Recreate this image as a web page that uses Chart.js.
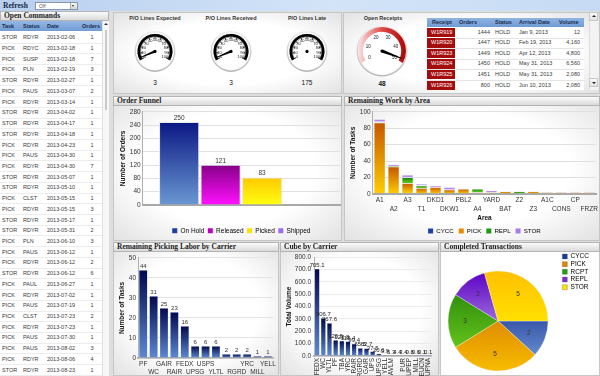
<!DOCTYPE html>
<html><head><meta charset="utf-8">
<script src="https://cdn.jsdelivr.net/npm/chart.js@4.4.1/dist/chart.umd.min.js"></script>
<style>
*{box-sizing:border-box;margin:0;padding:0}
html,body{width:600px;height:376px;overflow:hidden;background:#dedede;font-family:"Liberation Sans",Arial,sans-serif;color:#333;position:relative}
.a{position:absolute}
.panel{position:absolute;background:radial-gradient(ellipse at 50% 50%,#ffffff 55%,#e2e2e2 100%);border:1px solid #c6c6c6}
.ttl{position:absolute;height:10px;background:linear-gradient(#fbfbfb,#dadada);border:1px solid #b4b4b4;font:bold 7.5px "Liberation Serif",serif;line-height:8px;padding-left:3px;color:#1e1e1e;white-space:nowrap;overflow:hidden}
.cell{position:absolute;font-size:5.5px;line-height:10px;white-space:nowrap;color:#3a3a3a}
.hcell{position:absolute;font-size:5.5px;font-weight:bold;line-height:9px;white-space:nowrap;color:#1d2d4d}
.gt{position:absolute;font:bold 5.5px "Liberation Sans",Arial,sans-serif;color:#333;text-align:center;width:80px}
.gv{position:absolute;font:6.5px "Liberation Sans",Arial,sans-serif;color:#111;text-align:center;width:40px}
canvas{position:absolute}
</style></head><body>

<!-- top bar -->
<div class="a" style="left:0;top:0;width:600px;height:11px;background:linear-gradient(90deg,#b8cfee,#d3e4f8 55%,#c6dbf3)"></div>
<div class="a" style="left:3px;top:1px;font:bold 7.5px 'Liberation Serif',serif;color:#1a2a4a;line-height:9px">Refresh</div>
<div class="a" style="left:35px;top:2px;width:43px;height:8px;background:#fff;border:1px solid #8796ad;font-size:5px;line-height:6px;padding-left:3px;color:#555">Off</div>
<div class="a" style="left:70px;top:3px;width:7px;height:6px;background:linear-gradient(#f4f4f4,#d6d6d6);border-left:1px solid #aaa"></div>
<div class="a" style="left:72px;top:5px;width:0;height:0;border-left:1.5px solid transparent;border-right:1.5px solid transparent;border-top:2px solid #333"></div>

<!-- left panel -->
<div class="a" style="left:0;top:11px;width:109px;height:365px;background:#fff;border-right:1px solid #bdbdbd"></div>
<div class="ttl" style="left:0;top:11px;width:109px">Open Commands</div>
<div class="a" style="left:0;top:21px;width:102px;height:10px;background:linear-gradient(#93b7e4,#729dd5)"></div>
<div class="hcell" style="left:2px;top:21.5px">Task</div>
<div class="hcell" style="left:23px;top:21.5px">Status</div>
<div class="hcell" style="left:47px;top:21.5px">Date</div>
<div class="hcell" style="left:82px;top:21.5px">Orders</div>
<div id="cmdRows"></div>
<div class="a" style="left:102px;top:21px;width:7px;height:355px;background:#f7f7f7;border-left:1px solid #e0e0e0"></div>
<div class="a" style="left:104px;top:23px;width:0;height:0;border-left:2px solid transparent;border-right:2px solid transparent;border-bottom:2.5px solid #333"></div>
<div class="a" style="left:104.5px;top:30px;width:2px;height:80px;background:#c9c9c9"></div>

<!-- top panels -->
<div class="panel" style="left:113px;top:12px;width:229px;height:82px"></div>
<div class="panel" style="left:343px;top:12px;width:257px;height:82px"></div>

<div class="gt" style="left:115px;top:15px">P/O Lines Expected</div>
<div class="gt" style="left:191px;top:15px">P/O Lines Received</div>
<div class="gt" style="left:267px;top:15px">P/O Lines Late</div>
<div class="gt" style="left:343px;top:15px">Open Receipts</div>
<div id="gaugeVals"></div>

<!-- receipts table -->
<div class="a" id="rcpt" style="left:427px;top:18px;width:157px;height:72px;overflow:hidden;background:#fff">
</div>
<div class="a" style="left:589px;top:12px;width:9px;height:78px;background:#f3f3f3;border-left:1px solid #ddd"></div>
<div class="a" style="left:589px;top:12px;width:9px;height:9px;background:linear-gradient(#fafafa,#e0e0e0);border:1px solid #c8c8c8"></div>
<div class="a" style="left:591.5px;top:15px;width:0;height:0;border-left:2px solid transparent;border-right:2px solid transparent;border-bottom:2.5px solid #222"></div>
<div class="a" style="left:589px;top:78px;width:9px;height:9px;background:linear-gradient(#fafafa,#e0e0e0);border:1px solid #c8c8c8"></div>
<div class="a" style="left:591.5px;top:81.5px;width:0;height:0;border-left:2px solid transparent;border-right:2px solid transparent;border-top:2.5px solid #222"></div>

<!-- middle panels -->
<div class="panel" style="left:113px;top:96px;width:229px;height:145px"></div>
<div class="ttl" style="left:113px;top:96px;width:229px">Order Funnel</div>
<div class="panel" style="left:344px;top:96px;width:256px;height:145px"></div>
<div class="ttl" style="left:344px;top:96px;width:256px">Remaining Work by Area</div>

<!-- bottom panels -->
<div class="panel" style="left:113px;top:242px;width:166px;height:134px"></div>
<div class="panel" style="left:280px;top:242px;width:159px;height:134px"></div>
<div class="panel" style="left:440px;top:242px;width:160px;height:134px;background:#fff"></div>

<script>
// ================= DATA =================
const commandTasks = ['STOR','PICK','PICK','PICK','STOR','PICK','PICK','STOR','STOR','STOR','PICK','PICK','PICK','STOR','STOR','PICK','PICK','STOR','STOR','PICK','PICK','PICK','STOR','PICK','PICK','PICK','PICK','PICK','PICK','PICK','PICK','STOR'];
const commandStatuses = ['RDYR','RDYC','SUSP','PLN','RDYR','PAUS','RDYR','RDYR','RDYR','RDYR','RDYR','PAUS','RDYR','RDYR','RDYR','CLST','RDYR','RDYR','RDYR','PLN','PAUS','RDYR','RDYR','PAUL','RDYR','PAUS','CLST','RDYR','PAUS','PAUS','RDYR','RDYR'];
const commandDates = ['2013-02-06','2013-02-18','2013-02-18','2013-02-19','2013-02-27','2013-03-07','2013-03-14','2013-04-02','2013-04-17','2013-04-18','2013-04-23','2013-04-30','2013-04-30','2013-05-07','2013-05-10','2013-05-15','2013-05-15','2013-05-17','2013-05-31','2013-06-10','2013-06-12','2013-06-12','2013-06-12','2013-06-27','2013-07-02','2013-07-19','2013-07-23','2013-07-23','2013-07-30','2013-08-02','2013-08-06','2013-08-23'];
const commandOrders = [1,1,7,3,1,2,1,1,1,1,1,1,7,1,1,1,3,1,2,3,1,2,6,1,1,1,2,1,1,3,4,1];

const gaugeTitles = ['P/O Lines Expected','P/O Lines Received','P/O Lines Late'];
const gaugeValues = [3,3,175];
const gaugeMax = 100;
const gaugeStep = 10;
const receiptGaugeValue = 48;
const receiptGaugeMax = 50;
const receiptGaugeStep = 10;

const receiptIds = ['W1R919','W1R920','W1R923','W1R924','W1R925','W1R926'];
const receiptOrders = [1444,1447,1449,1450,1451,800];
const receiptStatuses = ['HOLD','HOLD','HOLD','HOLD','HOLD','HOLD'];
const receiptDates = ['Jan 9, 2013','Feb 19, 2013','Apr 12, 2013','May 31, 2013','May 31, 2013','Jun 10, 2013'];
const receiptVolumes = ['12','4,160','4,800','6,560','2,080','2,080'];

const funnelStages = ['On Hold','Released','Picked','Shipped'];
const funnelOrders = [250,121,83,0];

const areas = ['A1','A2','A3','T1','DKD1','DKW1','PBL2','A4','YARD','BAT','Z2','Z3','A1C','CONS','CP','FRZR'];
const areaCYCC = [0,0,1,0,0,0,0,0,0,0,0,0,0,0,0,0];
const areaPICK = [87,33,12,7,8,5,6,2,2,3,0,3,2,2,2,2];
const areaREPL = [1,1,7,3,0,0,0,4,0,0,3,0,0,0,0,0];
const areaSTOR = [3,2,3,2,2,3,0,0,2,0,0,0,0,0,0,0];

const laborCarriers = ['PF','WC','GAIR','RAIR','FEDX','UPSG','USPS','YLTL','','RGRD','YRC','MILL','YELL'];
const laborTasks = [44,31,25,23,16,6,6,6,2,2,2,1,1];

const cubeCarriers = ['FEDX','WC','YLTL','PF','TBA','YRC','RAIR','RGRD','GAIR','UPS','UPSG','YELL','AVLM','','PUR','UPEP','MILL','EUCN','UPNA'];
const cubeVolumes = [705.1,306.7,267.6,128.5,123.8,118.4,99.4,65.5,62.7,37.5,20.6,9.9,5.3,4.4,3.4,0.8,0.6,0.1,0.1];

const txnTypes = ['CYCC','PICK','RCPT','REPL','STOR'];
const txnCounts = [2,5,3,2,5];

// ================= STYLES =================
const FUNNEL_TOP = ['#0b1784','#860086','#ffc800','#7b3fe0'];
const FUNNEL_BOT = ['#6a98d2','#ff10ff','#ffff10','#b89af5'];
const FUNNEL_LEG = ['#1c3ea6','#c000c0','#ffe000','#9a6cf0'];
const AREA_TOP = ['#0b1784','#c45800','#167c0c','#9a68e0'];
const AREA_BOT = ['#6a98d2','#ffcc00','#5fd21f','#c8a9f6'];
const AREA_LEG = ['#1c3ea6','#e58c00','#1c9a10','#a57cea'];
const PIE_TOP = ['#000c78','#c85c00','#1a7a08','#5a00c4','#ffc000'];
const PIE_BOT = ['#74a2dc','#f7bc00','#7ad820','#dcd0f6','#ffff00'];
const PIE_LEG = ['#1a3a9c','#e38400','#20a010','#7a30d8','#ffe000'];
const NAVY_TOP = '#00084e', NAVY_BOT = '#5d8ad2';
const FONT = '"Liberation Sans", Arial, sans-serif';

// ================= TABLES =================
(function(){
  const host = document.getElementById('cmdRows');
  const rowH = 10.72, top0 = 32.3;
  let html = '';
  for (let i=0;i<commandTasks.length;i++){
    const y = top0 + i*rowH;
    html += `<div class="a" style="left:0;top:${y+rowH-0.5}px;width:102px;height:0.5px;background:#ececec"></div>`;
    html += `<div class="cell" style="left:2px;top:${y}px">${commandTasks[i]}</div>`;
    html += `<div class="cell" style="left:23px;top:${y}px">${commandStatuses[i]}</div>`;
    html += `<div class="cell" style="left:47px;top:${y}px">${commandDates[i]}</div>`;
    html += `<div class="cell" style="left:82px;width:20px;text-align:center;top:${y}px">${commandOrders[i]}</div>`;
  }
  host.innerHTML = html;

  const r = document.getElementById('rcpt');
  let h = `<div class="a" style="left:0;top:0;width:157px;height:9px;background:linear-gradient(#8fb4e3,#6f9ad3)"></div>`;
  h += `<div class="hcell" style="left:5px;top:0">Receipt</div><div class="hcell" style="left:32px;top:0">Orders</div><div class="hcell" style="left:68px;top:0">Status</div><div class="hcell" style="left:92px;top:0">Arrival Date</div><div class="hcell" style="left:132px;top:0">Volume</div>`;
  const rh = 10.6;
  for (let i=0;i<receiptIds.length;i++){
    const y = 9.5 + i*rh;
    h += `<div class="a" style="left:0;top:${y}px;width:28px;height:${rh-1}px;background:#a50d0d"></div>`;
    h += `<div class="a" style="left:0;top:${y+rh-0.6}px;width:157px;height:0.6px;background:#e4e4e4"></div>`;
    h += `<div class="cell" style="left:4px;top:${y}px;color:#fff;line-height:${rh-1}px">${receiptIds[i]}</div>`;
    h += `<div class="cell" style="left:30px;width:33px;text-align:right;top:${y}px;line-height:${rh-1}px">${receiptOrders[i]}</div>`;
    h += `<div class="cell" style="left:68px;top:${y}px;line-height:${rh-1}px">${receiptStatuses[i]}</div>`;
    h += `<div class="cell" style="left:92px;top:${y}px;line-height:${rh-1}px">${receiptDates[i]}</div>`;
    h += `<div class="cell" style="left:120px;width:33px;text-align:right;top:${y}px;line-height:${rh-1}px">${receiptVolumes[i]}</div>`;
  }
  r.innerHTML = h;

  const gv = document.getElementById('gaugeVals');
  const centers = [155,231,307];
  let g = '';
  gaugeValues.forEach((v,i)=>{ g += `<div class="gv" style="left:${centers[i]-20}px;top:79px">${v}</div>`; });
  g += `<div class="gv" style="left:362px;top:79.5px;font-weight:bold">${receiptGaugeValue}</div>`;
  gv.innerHTML = g;
})();

// ================= CHART HELPERS =================
Chart.defaults.font.family = FONT;
Chart.defaults.font.size = 6.5;
Chart.defaults.color = '#333';
Chart.defaults.animation = false;

function mk(x,y,w,h){
  const c = document.createElement('canvas');
  c.width=w; c.height=h;
  c.style.cssText = `left:${x}px;top:${y}px;width:${w}px;height:${h}px`;
  document.body.appendChild(c);
  return c;
}

function vGrad(top, bottom, stacked){
  return function(c){
    const ch=c.chart, ys=ch.scales && ch.scales.y;
    if(c.type!=='data'||!ys||!ch.chartArea) return bottom;
    let base=0;
    if(stacked) for(let d=0; d<c.datasetIndex; d++) base += ch.data.datasets[d].data[c.dataIndex]||0;
    const v=c.raw||0;
    const y0=ys.getPixelForValue(base), y1=ys.getPixelForValue(base+v);
    if(!(y0>y1+0.1)) return bottom;
    const g=ch.ctx.createLinearGradient(0,y1,0,y0);
    g.addColorStop(0,top); g.addColorStop(1,bottom); return g;
  };
}

const valueLabels = {
  id:'valueLabels',
  afterDatasetsDraw(chart, args, o){
    if(!o || !o.display) return;
    const ctx=chart.ctx; ctx.save();
    ctx.font=o.font; ctx.fillStyle=o.color||'#333'; ctx.textAlign='center'; ctx.textBaseline='bottom';
    chart.data.datasets.forEach((ds,di)=>{
      const meta=chart.getDatasetMeta(di);
      meta.data.forEach((el,i)=>{
        const v=ds.data[i]; if(!v) return;
        ctx.fillText(o.format?o.format(v):String(v), el.x, el.y-(o.offset||0.5));
      });
    });
    ctx.restore();
  }
};

// centre the legend under the plot area instead of the whole canvas
const legendUnderPlot = {
  id:'legendUnderPlot',
  beforeDraw(chart){
    const lg=chart.legend; if(!lg || lg._centred) return;
    const a=chart.chartArea, dx=(a.left+a.right)/2-(lg.left+lg.right)/2;
    lg.left+=dx; lg.right+=dx; lg._centred=true;
  }
};

const gaugeFace = {
  id:'gaugeFace',
  beforeDatasetsDraw(chart, args, o){
    const arc = chart.getDatasetMeta(0).data[0]; if(!arc) return;
    const {x,y}=arc, R=o.faceR, ctx=chart.ctx;
    ctx.save();
    const g=ctx.createLinearGradient(x,y-R,x,y+R); g.addColorStop(0,'#ececec'); g.addColorStop(1,'#b4b4b4');
    ctx.beginPath(); ctx.arc(x,y,R,0,Math.PI*2); ctx.fillStyle=g; ctx.fill();
    ctx.beginPath(); ctx.arc(x,y,R-1.3,0,Math.PI*2);
    const f=ctx.createRadialGradient(x,y,0,x,y,R); f.addColorStop(0,'#ffffff'); f.addColorStop(0.85,'#ffffff'); f.addColorStop(1,'#ededed');
    ctx.fillStyle=f; ctx.fill();
    ctx.restore();
  },
  afterDatasetsDraw(chart, args, o){
    const arc = chart.getDatasetMeta(0).data[0]; if(!arc) return;
    const {x,y,startAngle,endAngle,outerRadius,innerRadius}=arc, ctx=chart.ctx;
    const span=endAngle-startAngle;
    ctx.save();
    ctx.strokeStyle=o.tickColor; ctx.lineCap='butt';
    const minorN = o.max/o.step*o.minor;
    for(let k=0;k<=minorN;k++){
      const a=startAngle+span*k/minorN;
      const major = k%o.minor===0;
      const r0 = major? innerRadius-o.majorLen : innerRadius-o.minorLen;
      ctx.lineWidth = major?0.9:0.5;
      ctx.beginPath(); ctx.moveTo(x+Math.cos(a)*r0,y+Math.sin(a)*r0); ctx.lineTo(x+Math.cos(a)*outerRadius,y+Math.sin(a)*outerRadius); ctx.stroke();
    }
    ctx.fillStyle='#222'; ctx.font=o.labelFont; ctx.textAlign='center'; ctx.textBaseline='middle';
    for(let v=0; v<=o.max; v+=o.step){
      const a=startAngle+span*v/o.max;
      ctx.fillText(String(v), x+Math.cos(a)*o.labelR, y+Math.sin(a)*o.labelR);
    }
    if(o.value<=o.max){
      const a=startAngle+span*o.value/o.max, L=o.needleLen, w=o.needleW;
      const px=-Math.sin(a), py=Math.cos(a);
      ctx.beginPath();
      ctx.moveTo(x+px*w, y+py*w);
      ctx.lineTo(x+Math.cos(a)*L+px*0.4, y+Math.sin(a)*L+py*0.4);
      ctx.lineTo(x+Math.cos(a)*L-px*0.4, y+Math.sin(a)*L-py*0.4);
      ctx.lineTo(x-px*w, y-py*w);
      ctx.closePath(); ctx.fillStyle='#000'; ctx.fill();
    }
    ctx.beginPath(); ctx.arc(x,y,1.6,0,Math.PI*2); ctx.fillStyle='#000'; ctx.fill();
    ctx.restore();
  }
};

function gauge(cx, cy, size, bandR, cutout, bandColor, opts){
  // doughnut with 240 deg sweep: centre sits 0.25*radius below canvas centre
  const top = cy - 0.25*bandR - size/2;
  return new Chart(mk(cx-size/2, top, size, size), {
    type:'doughnut',
    data:{labels:['scale'], datasets:[{data:[opts.max], backgroundColor:bandColor, borderWidth:0}]},
    options:{responsive:false, events:[], circumference:240, rotation:-120, radius:bandR, cutout:cutout,
      plugins:{legend:{display:false}, tooltip:{enabled:false}, gaugeFace:opts}},
    plugins:[gaugeFace]
  });
}

// ================= GAUGES =================
[155,231,307].forEach((cx,i)=>{
  gauge(cx, 51, 58, 17.5, '85%', '#000', {faceR:20.5, max:gaugeMax, step:gaugeStep, minor:5, majorLen:2.2, minorLen:1, tickColor:'#000', labelR:11.5, labelFont:'4px '+FONT, value:gaugeValues[i], needleLen:15.5, needleW:1.3});
});
gauge(382, 51, 72, 24, '80%', function(c){
  const a=c.chart.chartArea; if(!a) return '#c00';
  const g=c.chart.ctx.createLinearGradient(a.left+10,0,a.right-10,0);
  g.addColorStop(0,'rgba(255,235,235,0.9)'); g.addColorStop(0.5,'#e04848'); g.addColorStop(1,'#a80000'); return g;
}, {faceR:25.5, max:receiptGaugeMax, step:receiptGaugeStep, minor:5, majorLen:0.1, minorLen:0.1, tickColor:'rgba(0,0,0,0)', labelR:14.5, labelFont:'4.5px '+FONT, value:receiptGaugeValue, needleLen:21, needleW:1.6});

// ================= ORDER FUNNEL =================
new Chart(mk(114,106,227,138), {
  type:'bar',
  data:{labels:['Orders'], datasets: funnelStages.map((s,i)=>({label:s, data:[funnelOrders[i]],
    backgroundColor:vGrad(FUNNEL_TOP[i],FUNNEL_BOT[i],false), borderColor:'#e6e6ee', borderWidth:1,
    barPercentage:0.97, categoryPercentage:0.84}))},
  options:{responsive:false, events:[], layout:{padding:{left:4,right:1,top:5,bottom:0}},
    scales:{
      x:{ticks:{display:false}, grid:{display:false,drawTicks:false}, border:{color:'#a8a8a8',width:2}, afterFit(s){s.height=19;}},
      y:{min:0,max:280, ticks:{stepSize:40, padding:2, font:{size:6.5}}, grid:{color:'#e0e0e0', drawTicks:false},
         border:{color:'#b0b0b0',width:1}, title:{display:true,text:'Number of Orders',font:{size:6.5,weight:'bold'},color:'#111',padding:1}}
    },
    plugins:{tooltip:{enabled:false},
      legend:{position:'bottom', labels:{boxWidth:5, boxHeight:5, padding:3.5, font:{size:6.5}, color:'#222',
        generateLabels:(ch)=>ch.data.datasets.map((d,i)=>({text:d.label, fillStyle:FUNNEL_LEG[i], strokeStyle:'rgba(0,0,0,0)', lineWidth:0, datasetIndex:i}))}},
      valueLabels:{display:true, font:'6.5px '+FONT, color:'#333', offset:0}}
  },
  plugins:[valueLabels, legendUnderPlot]
});

// ================= REMAINING WORK =================
const areaSeries = [['CYCC',areaCYCC],['PICK',areaPICK],['REPL',areaREPL],['STOR',areaSTOR]];
new Chart(mk(344,106,256,138), {
  type:'bar',
  data:{labels:areas, datasets: areaSeries.map(([n,d],i)=>({label:n, data:d,
    backgroundColor:vGrad(AREA_TOP[i],AREA_BOT[i],true), borderColor:'rgba(235,235,245,0.9)', borderWidth:0.6,
    barPercentage:0.9, categoryPercentage:0.92}))},
  options:{responsive:false, events:[], layout:{padding:{left:4,right:3,top:5,bottom:0}},
    scales:{
      x:{stacked:true, grid:{display:false,drawTicks:false}, border:{color:'#a8a8a8',width:2},
         ticks:{autoSkip:false, maxRotation:0, minRotation:0, padding:2, font:{size:6.5,lineHeight:1.35},
           callback:(v,i)=> i%2 ? ['',areas[i]] : areas[i]},
         title:{display:true,text:'Area',font:{size:6.5,weight:'bold'},color:'#111',padding:{top:0,bottom:1}},
         afterFit(s){s.height=29;}},
      y:{stacked:true, min:0, max:100, ticks:{stepSize:20,padding:2}, grid:{color:'#e0e0e0',drawTicks:false},
         border:{color:'#b0b0b0',width:1}, title:{display:true,text:'Number of Tasks',font:{size:6.5,weight:'bold'},color:'#111',padding:1}}
    },
    plugins:{tooltip:{enabled:false},
      legend:{position:'bottom', labels:{boxWidth:5, boxHeight:5, padding:5, font:{size:6.2}, color:'#222',
        generateLabels:(ch)=>ch.data.datasets.map((d,i)=>({text:d.label, fillStyle:AREA_LEG[i], strokeStyle:'rgba(0,0,0,0)', lineWidth:0, datasetIndex:i}))}}}
  },
  plugins:[legendUnderPlot]
});

// ================= PICKING LABOR =================
new Chart(mk(113,252,165,124), {
  type:'bar',
  data:{labels:laborCarriers, datasets:[{label:'Tasks', data:laborTasks, backgroundColor:vGrad(NAVY_TOP,NAVY_BOT,false),
    borderColor:'rgba(230,235,245,0.9)', borderWidth:0.6, barPercentage:0.88, categoryPercentage:0.98}]},
  options:{responsive:false, events:[], layout:{padding:{left:4,right:4,top:5,bottom:0}},
    scales:{
      x:{grid:{display:false,drawTicks:false}, border:{color:'#a8a8a8',width:1.5},
         ticks:{autoSkip:false,maxRotation:0,minRotation:0,padding:2,font:{size:6.5,lineHeight:1.3},
           callback:(v,i)=> i%2 ? ['',laborCarriers[i]] : laborCarriers[i]}, afterFit(s){s.height=18;}},
      y:{min:0,max:50,ticks:{stepSize:5,padding:2}, grid:{color:'#e4e4e4',drawTicks:false}, border:{color:'#b0b0b0',width:1},
         title:{display:true,text:'Number of Tasks',font:{size:6.5,weight:'bold'},color:'#111',padding:1}}
    },
    plugins:{tooltip:{enabled:false},legend:{display:false}, valueLabels:{display:true,font:'6px '+FONT,color:'#333',offset:0}}
  },
  plugins:[valueLabels]
});

// ================= CUBE BY CARRIER =================
new Chart(mk(280,252,158,124), {
  type:'bar',
  data:{labels:cubeCarriers, datasets:[{label:'Volume', data:cubeVolumes, backgroundColor:vGrad(NAVY_TOP,NAVY_BOT,false),
    borderColor:'rgba(230,235,245,0.9)', borderWidth:0.5, barPercentage:0.85, categoryPercentage:1}]},
  options:{responsive:false, events:[], layout:{padding:{left:4,right:2,top:5,bottom:0}},
    scales:{
      x:{grid:{display:false,drawTicks:false}, border:{color:'#a8a8a8',width:1.5},
         ticks:{autoSkip:false,maxRotation:90,minRotation:90,padding:2,font:{size:6.5}}, afterFit(s){s.height=20;}},
      y:{min:0,max:800,ticks:{stepSize:100,padding:1,callback:(v)=>Number(v).toFixed(1)}, grid:{color:'#ececec',tickLength:2},
         border:{color:'#b0b0b0',width:1},
         title:{display:true,text:'Total Volume',font:{size:6.5,weight:'bold'},color:'#111',padding:1}}
    },
    plugins:{tooltip:{enabled:false},legend:{display:false}, valueLabels:{display:true,font:'6px '+FONT,color:'#222',offset:0,format:(v)=>v.toFixed(1)}}
  },
  plugins:[valueLabels]
});

// ================= COMPLETED TRANSACTIONS =================
const pieLabels = {
  id:'pieLabels',
  afterDatasetsDraw(chart,a,o){
    const meta=chart.getDatasetMeta(0), ctx=chart.ctx; ctx.save();
    ctx.font=o.font; ctx.fillStyle=o.color; ctx.textAlign='center'; ctx.textBaseline='middle';
    meta.data.forEach((el,i)=>{
      const v=chart.data.datasets[0].data[i], ang=(el.startAngle+el.endAngle)/2, r=el.outerRadius*o.r;
      ctx.fillText(String(v), el.x+Math.cos(ang)*r, el.y+Math.sin(ang)*r);
    });
    ctx.restore();
  }
};
new Chart(mk(434.5,252,164,138), {
  type:'pie',
  data:{labels:txnTypes, datasets:[{data:txnCounts, borderWidth:0.5, borderColor:'rgba(255,255,255,0.6)',
    backgroundColor:(c)=>{
      const ch=c.chart, a=ch.chartArea, i=c.dataIndex; if(!a||c.type!=='data') return PIE_LEG[i];
      const cy=(a.top+a.bottom)/2;
      const g=ch.ctx.createLinearGradient(0,cy-50,0,cy+50); g.addColorStop(0,PIE_TOP[i]); g.addColorStop(1,PIE_BOT[i]); return g;
    }}]},
  options:{responsive:false, events:[], rotation:90, radius:50, layout:{padding:0},
    plugins:{tooltip:{enabled:false},
      legend:{position:'right', align:'start', labels:{boxWidth:5,boxHeight:5,padding:1.2,font:{size:6.5},color:'#222',
        generateLabels:(ch)=>txnTypes.map((t,i)=>({text:t, fillStyle:PIE_LEG[i], strokeStyle:'#555', lineWidth:0.3, index:i}))}},
      pieLabels:{font:'6.5px '+FONT, color:'#333', r:0.66}}
  },
  plugins:[pieLabels]
});
</script>
<!-- bottom panel title bars drawn over the canvases -->
<div class="ttl" style="left:113px;top:242px;width:166px">Remaining Picking Labor by Carrier</div>
<div class="ttl" style="left:280px;top:242px;width:159px">Cube by Carrier</div>
<div class="ttl" style="left:440px;top:242px;width:160px">Completed Transactions</div>
</body></html>
